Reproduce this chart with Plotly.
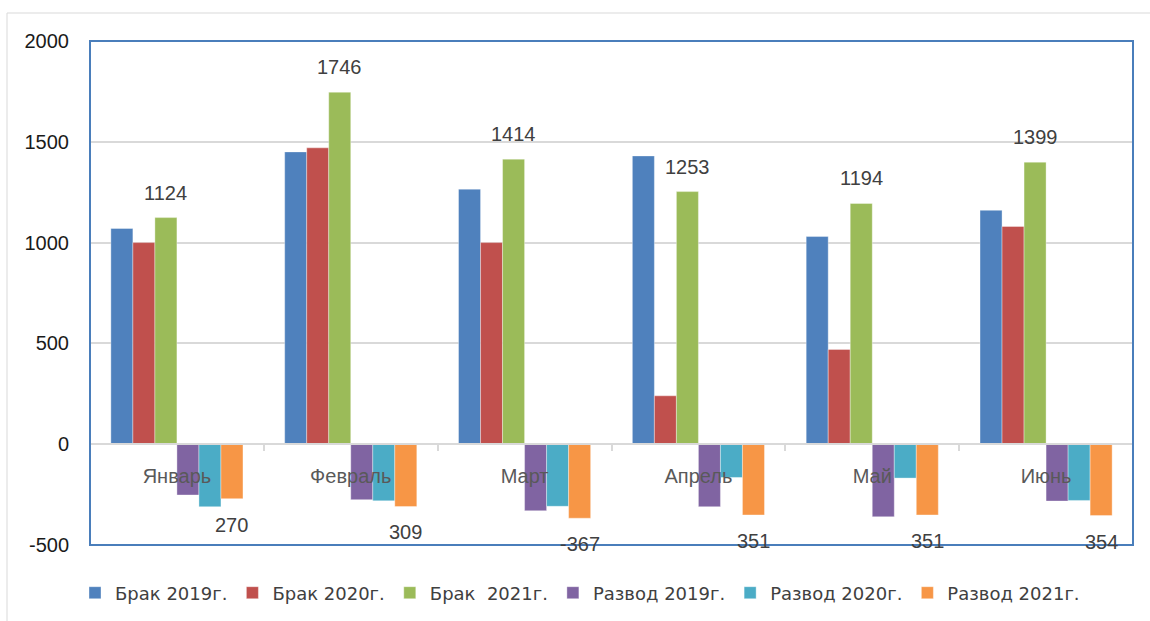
import plotly.graph_objects as go

months = ["Январь", "Февраль", "Март", "Апрель", "Май", "Июнь"]
series_names = ["Брак 2019г.", "Брак 2020г.", "Брак\u00a0 2021г.",
                "Развод 2019г.", "Развод 2020г.", "Развод 2021г."]
brak_2019 = [1070, 1450, 1265, 1430, 1030, 1160]
brak_2020 = [1000, 1470, 1000, 240, 470, 1080]
brak_2021 = [1124, 1746, 1414, 1253, 1194, 1399]
razvod_2019 = [-252, -275, -330, -310, -360, -282]
razvod_2020 = [-310, -281, -308, -165, -168, -279]
razvod_2021 = [-270, -309, -367, -351, -351, -354]
razvod_2021_labels = ["270", "309", "-367", "351", "351", "354"]
y_ticks = [-500, 0, 500, 1000, 1500, 2000]

colors = ["#4f81bd", "#c0504d", "#9bbb59", "#8064a2", "#4bacc6", "#f79646"]
all_series = [brak_2019, brak_2020, brak_2021, razvod_2019, razvod_2020, razvod_2021]

W, H = 1150, 621
L, R, T, B = 90, 17, 41, 76
BARGAP = 0.24
FONT = "Liberation Sans, Arial, sans-serif"
LEG_FONT = "DejaVu Sans, Liberation Sans, sans-serif"

fig = go.Figure()
for name, vals, col in zip(series_names, all_series, colors):
    fig.add_trace(go.Bar(x=months, y=vals, name=name,
                         marker=dict(color=col, line=dict(width=0.6, color="rgba(255,255,255,0.6)"))))

ymin, ymax = y_ticks[0], y_ticks[-1]
n = len(all_series)
bw = (1 - BARGAP) / n

annotations = []
def add_labels(k, vals, labels, shift):
    for i, (v, t) in enumerate(zip(vals, labels)):
        annotations.append(dict(
            x=i + (k - (n - 1) / 2) * bw, y=v, xref="x", yref="y",
            text=t, showarrow=False, yshift=shift if v >= 0 else -shift,
            font=dict(family=FONT, size=20, color="#404040"),
            xanchor="center", yanchor="middle"))

add_labels(2, brak_2021, [str(v) for v in brak_2021], 25)
add_labels(5, razvod_2021, razvod_2021_labels, 26)

pw = W - L - R
ph = H - T - B
shapes = [
    dict(type="rect", xref="paper", yref="paper", x0=0, x1=1, y0=0, y1=1,
         line=dict(color="#4a7ebb", width=2), layer="above"),
    dict(type="rect", xref="paper", yref="paper",
         x0=(7 - L) / pw, x1=(W + 5 - L) / pw,
         y0=(T + ph - (H + 5)) / ph, y1=(T + ph - 13) / ph,
         line=dict(color="#d9d9d9", width=1), layer="below"),
]

fig.update_layout(
    width=W, height=H,
    margin=dict(l=L, r=R, t=T, b=B, autoexpand=False),
    paper_bgcolor="white", plot_bgcolor="white",
    barmode="group", bargap=BARGAP, bargroupgap=0,
    font=dict(family=FONT, size=19, color="#404040"),
    xaxis=dict(type="category", anchor="free", automargin=False,
               position=(0 - ymin) / (ymax - ymin),
               showline=True, linecolor="#d9d9d9", linewidth=2,
               ticks="outside", tickson="boundaries", ticklen=6, tickcolor="#d9d9d9",
               tickwidth=1.5, ticklabelstandoff=14,
               tickfont=dict(family=FONT, size=20, color="#595959"),
               showgrid=False, zeroline=False),
    yaxis=dict(range=[ymin, ymax], tickvals=y_ticks, ticktext=[str(v) for v in y_ticks],
               showgrid=True, automargin=False,
               gridcolor="#d9d9d9", gridwidth=1.5, zeroline=False, showline=False,
               ticks="", ticklabelstandoff=20,
               tickfont=dict(family=FONT, size=20, color="#1a1a1a")),
    legend=dict(orientation="h", x=(75 - L) / pw, xanchor="left",
                y=(T + ph - 593) / ph, yanchor="middle",
                font=dict(family=LEG_FONT, size=18, color="#404040"),
                traceorder="normal"),
    annotations=annotations, shapes=shapes,
)

fig.write_html("out.html", config={"displayModeBar": False},
               post_script="document.body.style.margin='0';")
